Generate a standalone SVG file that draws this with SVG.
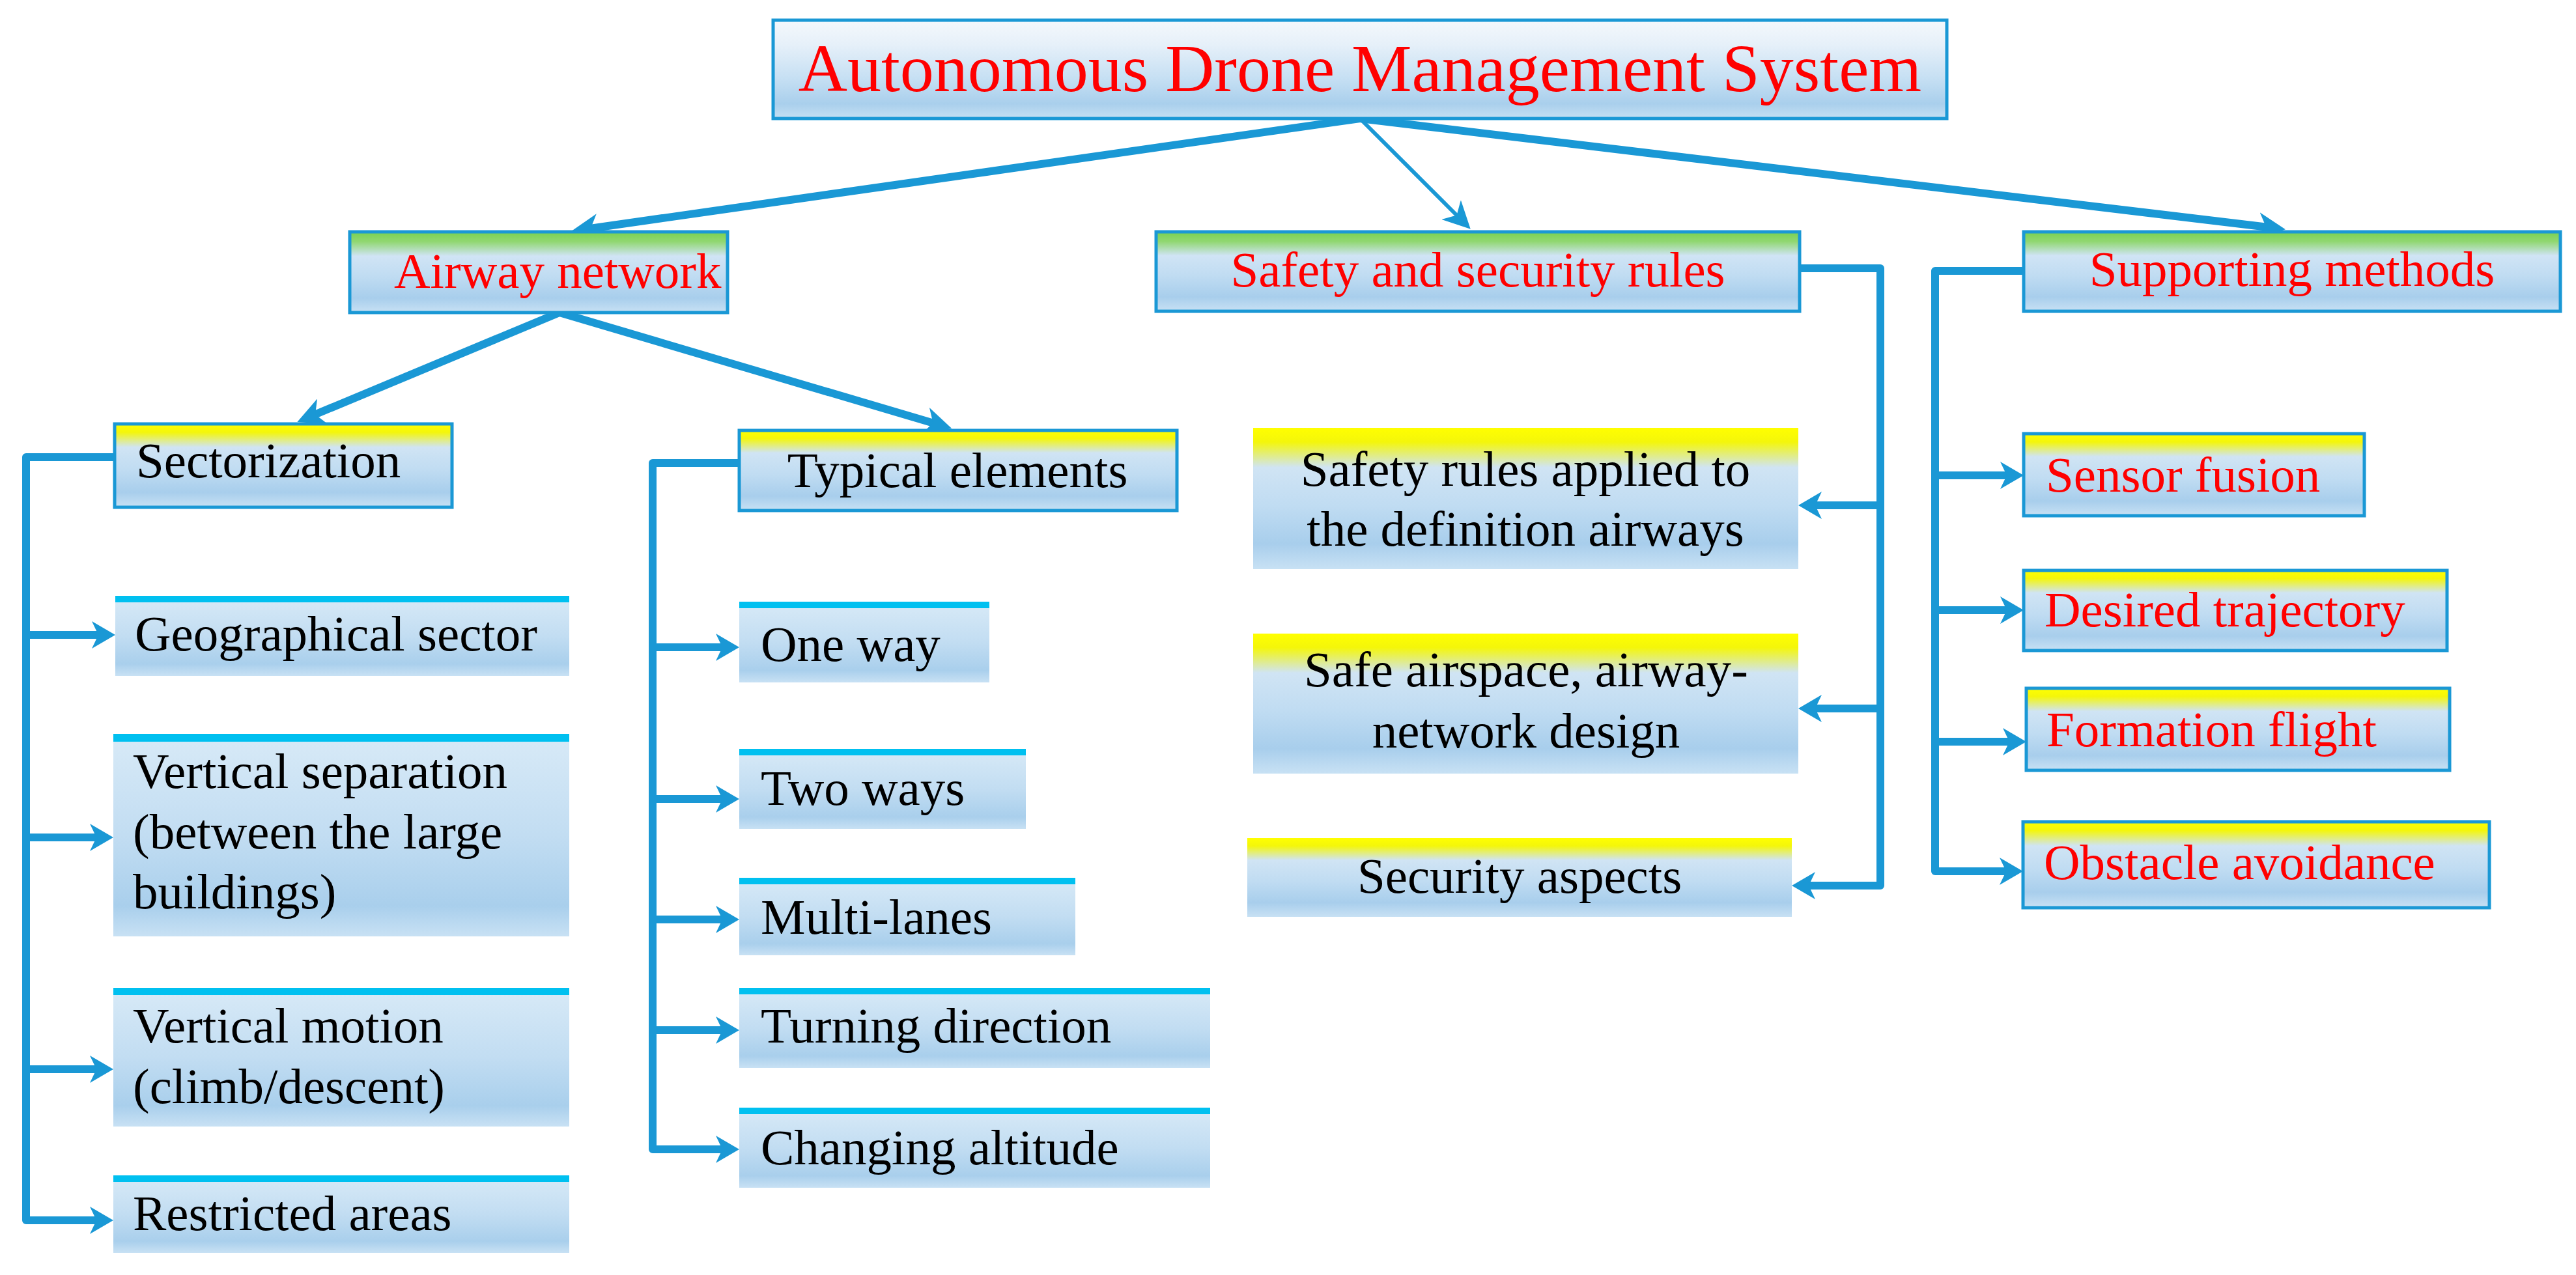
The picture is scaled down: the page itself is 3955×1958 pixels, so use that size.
<svg xmlns="http://www.w3.org/2000/svg" width="3955" height="1958" viewBox="0 0 3955 1958">
<style>
.red{fill:#ff0000;}
.blk{fill:#000000;}
.bd{stroke:#1a98d5;stroke-width:5;}
.conn{fill:none;stroke:#1a98d5;stroke-width:12;stroke-linejoin:round;}
.thin{fill:none;stroke:#1a98d5;stroke-width:6;}
.band{fill:#00c0f0;}
</style>
<defs>
<linearGradient id="gTop" x1="0" y1="0" x2="0" y2="1">
<stop offset="0" stop-color="#f4f8fc"/><stop offset="0.25" stop-color="#e6f0f9"/><stop offset="0.6" stop-color="#c5dff3"/><stop offset="0.85" stop-color="#a9cfec"/><stop offset="1" stop-color="#c6e0f3"/>
</linearGradient>
<linearGradient id="gGreen" x1="0" y1="0" x2="0" y2="1">
<stop offset="0" stop-color="#78d152"/><stop offset="0.12" stop-color="#90d770"/><stop offset="0.3" stop-color="#d0e4f5"/><stop offset="0.55" stop-color="#c0dcf2"/><stop offset="0.82" stop-color="#a8ceec"/><stop offset="1" stop-color="#c8e1f4"/>
</linearGradient>
<linearGradient id="gYellow" x1="0" y1="0" x2="0" y2="1">
<stop offset="0" stop-color="#ffff00"/><stop offset="0.1" stop-color="#f4f60a"/><stop offset="0.28" stop-color="#d0e4f4"/><stop offset="0.55" stop-color="#c0dcf2"/><stop offset="0.82" stop-color="#a8ceec"/><stop offset="1" stop-color="#c8e1f4"/>
</linearGradient>
<linearGradient id="gBody" x1="0" y1="0" x2="0" y2="1">
<stop offset="0" stop-color="#d8eaf7"/><stop offset="0.5" stop-color="#c2ddf2"/><stop offset="0.85" stop-color="#a9cfec"/><stop offset="1" stop-color="#c8e1f4"/>
</linearGradient>
<marker id="ah" markerUnits="userSpaceOnUse" viewBox="0 0 36 42" markerWidth="36" markerHeight="42" refX="20" refY="21" orient="auto">
<path d="M0,0 L36,21 L0,42 L10,21 z" fill="#1a98d5"/>
</marker>
<marker id="ahL" markerUnits="userSpaceOnUse" viewBox="0 0 42 42" markerWidth="42" markerHeight="42" refX="24" refY="21" orient="auto">
<path d="M0,0 L42,21 L0,42 L12,21 z" fill="#1a98d5"/>
</marker>
</defs>
<rect x="0" y="0" width="3955" height="1958" fill="#ffffff"/>

<g id="connectors">
<path class="conn" d="M2088,182 L895,352.5" marker-end="url(#ahL)"/>
<path class="thin" d="M2088,182 L2245,339" marker-end="url(#ahL)"/>
<path class="conn" d="M2088,182 L3491,350" marker-end="url(#ahL)"/>
<path class="conn" d="M859,480 L473,641" marker-end="url(#ahL)"/>
<path class="conn" d="M859,480 L1444,653" marker-end="url(#ahL)"/>
<path class="conn" d="M176,702 H40 V1874 H158" marker-end="url(#ah)"/>
<path class="conn" d="M40,975 H161" marker-end="url(#ah)"/>
<path class="conn" d="M40,1286 H158" marker-end="url(#ah)"/>
<path class="conn" d="M40,1642 H158" marker-end="url(#ah)"/>
<path class="conn" d="M1135,711 H1002 V1765 H1119" marker-end="url(#ah)"/>
<path class="conn" d="M1002,994 H1119" marker-end="url(#ah)"/>
<path class="conn" d="M1002,1227 H1119" marker-end="url(#ah)"/>
<path class="conn" d="M1002,1412 H1119" marker-end="url(#ah)"/>
<path class="conn" d="M1002,1582 H1119" marker-end="url(#ah)"/>
<path class="conn" d="M2763,412 H2887 V1360 H2767" marker-end="url(#ah)"/>
<path class="conn" d="M2887,776 H2777" marker-end="url(#ah)"/>
<path class="conn" d="M2887,1088 H2777" marker-end="url(#ah)"/>
<path class="conn" d="M3107,416 H2971 V1338 H3090" marker-end="url(#ah)"/>
<path class="conn" d="M2971,730 H3091" marker-end="url(#ah)"/>
<path class="conn" d="M2971,937 H3091" marker-end="url(#ah)"/>
<path class="conn" d="M2971,1139 H3095" marker-end="url(#ah)"/>
</g>

<g font-family="Liberation Serif, Times New Roman, serif" font-size="77">
<g id="n-root">
<rect x="1187" y="31" width="1802" height="151" fill="url(#gTop)" class="bd"/>
<text x="2088" y="140" class="red" text-anchor="middle" font-size="104">Autonomous Drone Management System</text>
</g>

<g id="n-airway">
<rect x="537" y="356" width="580" height="124" fill="url(#gGreen)" class="bd"/>
<text x="605" y="442" class="red">Airway network</text>
</g>
<g id="n-safety">
<rect x="1775" y="356" width="988" height="122" fill="url(#gGreen)" class="bd"/>
<text x="2269" y="440" class="red" text-anchor="middle">Safety and security rules</text>
</g>
<g id="n-supporting">
<rect x="3107" y="356" width="824" height="122" fill="url(#gGreen)" class="bd"/>
<text x="3519" y="439" class="red" text-anchor="middle">Supporting methods</text>
</g>

<g id="n-sectorization">
<rect x="176" y="651" width="518" height="128" fill="url(#gYellow)" class="bd"/>
<text x="209" y="733" class="blk">Sectorization</text>
</g>
<g id="n-typical">
<rect x="1135" y="661" width="672" height="123" fill="url(#gYellow)" class="bd"/>
<text x="1470" y="748" class="blk" text-anchor="middle">Typical elements</text>
</g>

<g id="n-geo">
<rect x="177" y="915" width="697" height="123" fill="url(#gBody)"/>
<rect x="177" y="915" width="697" height="10" class="band"/>
<text x="207" y="999" class="blk">Geographical sector</text>
</g>
<g id="n-vsep">
<rect x="174" y="1127" width="700" height="311" fill="url(#gBody)"/>
<rect x="174" y="1127" width="700" height="12" class="band"/>
<text x="204" y="1210" class="blk">Vertical separation</text>
<text x="204" y="1303" class="blk">(between the large</text>
<text x="204" y="1395" class="blk">buildings)</text>
</g>
<g id="n-vmotion">
<rect x="174" y="1517" width="700" height="213" fill="url(#gBody)"/>
<rect x="174" y="1517" width="700" height="11" class="band"/>
<text x="204" y="1601" class="blk">Vertical motion</text>
<text x="204" y="1694" class="blk">(climb/descent)</text>
</g>
<g id="n-restricted">
<rect x="174" y="1805" width="700" height="119" fill="url(#gBody)"/>
<rect x="174" y="1805" width="700" height="10" class="band"/>
<text x="204" y="1889" class="blk">Restricted areas</text>
</g>

<g id="n-oneway">
<rect x="1135" y="924" width="384" height="124" fill="url(#gBody)"/>
<rect x="1135" y="924" width="384" height="10" class="band"/>
<text x="1168" y="1015" class="blk">One way</text>
</g>
<g id="n-twoways">
<rect x="1135" y="1150" width="440" height="123" fill="url(#gBody)"/>
<rect x="1135" y="1150" width="440" height="10" class="band"/>
<text x="1168" y="1236" class="blk">Two ways</text>
</g>
<g id="n-multilanes">
<rect x="1135" y="1348" width="516" height="119" fill="url(#gBody)"/>
<rect x="1135" y="1348" width="516" height="10" class="band"/>
<text x="1168" y="1434" class="blk">Multi-lanes</text>
</g>
<g id="n-turning">
<rect x="1135" y="1517" width="723" height="123" fill="url(#gBody)"/>
<rect x="1135" y="1517" width="723" height="10" class="band"/>
<text x="1168" y="1601" class="blk">Turning direction</text>
</g>
<g id="n-altitude">
<rect x="1135" y="1701" width="723" height="123" fill="url(#gBody)"/>
<rect x="1135" y="1701" width="723" height="10" class="band"/>
<text x="1168" y="1788" class="blk">Changing altitude</text>
</g>

<g id="n-saferules">
<rect x="1924" y="657" width="837" height="217" fill="url(#gYellow)"/>
<text x="2342" y="746" class="blk" text-anchor="middle">Safety rules applied to</text>
<text x="2342" y="838" class="blk" text-anchor="middle">the definition airways</text>
</g>
<g id="n-safeairspace">
<rect x="1924" y="973" width="837" height="215" fill="url(#gYellow)"/>
<text x="2343" y="1054" class="blk" text-anchor="middle">Safe airspace, airway-</text>
<text x="2343" y="1148" class="blk" text-anchor="middle">network design</text>
</g>
<g id="n-security">
<rect x="1915" y="1287" width="836" height="121" fill="url(#gYellow)"/>
<text x="2333" y="1371" class="blk" text-anchor="middle">Security aspects</text>
</g>

<g id="n-sensor">
<rect x="3107" y="666" width="523" height="126" fill="url(#gYellow)" class="bd"/>
<text x="3141" y="755" class="red">Sensor fusion</text>
</g>
<g id="n-desired">
<rect x="3107" y="876" width="650" height="123" fill="url(#gYellow)" class="bd"/>
<text x="3139" y="962" class="red">Desired trajectory</text>
</g>
<g id="n-formation">
<rect x="3111" y="1057" width="650" height="126" fill="url(#gYellow)" class="bd"/>
<text x="3142" y="1146" class="red">Formation flight</text>
</g>
<g id="n-obstacle">
<rect x="3106" y="1262" width="716" height="132" fill="url(#gYellow)" class="bd"/>
<text x="3138" y="1350" class="red">Obstacle avoidance</text>
</g>
</g>
</svg>
